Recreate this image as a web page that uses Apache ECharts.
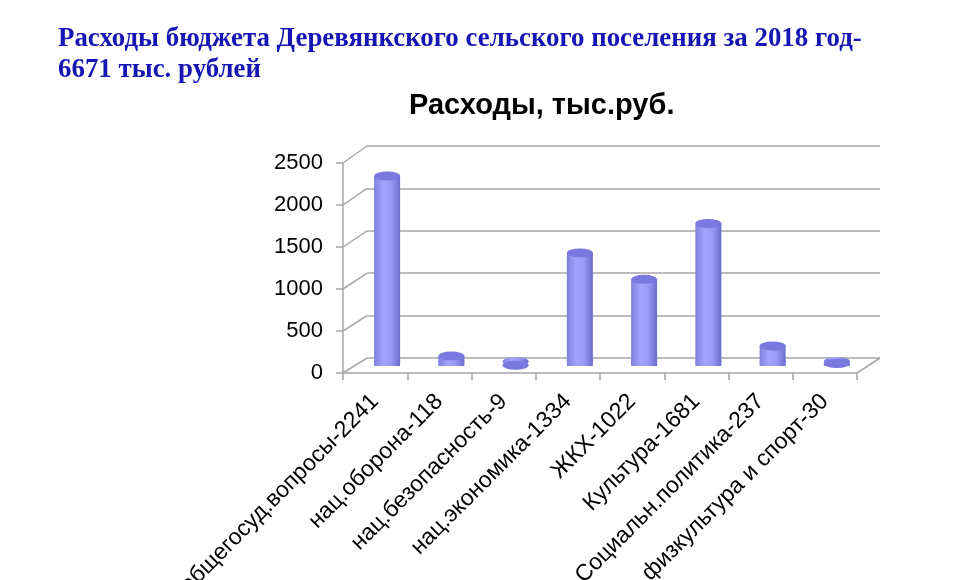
<!DOCTYPE html>
<html>
<head>
<meta charset="utf-8">
<script src="https://cdn.jsdelivr.net/npm/echarts@6/dist/echarts.min.js"></script>
<style>
  html, body { margin: 0; padding: 0; background: #fff; }
  #chart { width: 960px; height: 580px; }
</style>
</head>
<body>
<div id="chart"></div>
<script>
var categories = [
    'общегосуд.вопросы-2241',
    'нац.оборона-118',
    'нац.безопасность-9',
    'нац.экономика-1334',
    'ЖКХ-1022',
    'Культура-1681',
    'Социальн.политика-237',
    'физкультура и спорт-30'
];
var expenses = [2241, 118, 9, 1334, 1022, 1681, 237, 30];
var yTicks = [0, 500, 1000, 1500, 2000, 2500];

var mainTitle = 'Расходы бюджета Деревянкского сельского поселения за 2018 год-\n6671 тыс. рублей';
var chartTitle = 'Расходы, тыс.руб.';

// back wall, bar plane, front axes (fake 3d depth)
var BACK = { left: 367, right: 80, top: 146, bottom: 222 };
var MID = { left: 355, right: 91, top: 154, bottom: 214 };
var FRONT = { left: 343, right: 103, top: 163, bottom: 207 };
var gridColor = '#a6a6a6';

var chart = echarts.init(document.getElementById('chart'));

function valueAxis(idx, extra) {
    return Object.assign({
        type: 'value',
        gridIndex: idx,
        min: 0,
        max: 2500,
        interval: 500,
        axisLabel: { show: false },
        axisTick: { show: false },
        axisLine: { show: false },
        splitLine: { show: false }
    }, extra || {});
}

function catAxis(idx, extra) {
    return Object.assign({
        type: 'category',
        gridIndex: idx,
        data: categories,
        axisLabel: { show: false },
        axisTick: { show: false },
        axisLine: { show: false }
    }, extra || {});
}

function makeGrid(box) {
    return Object.assign({ containLabel: false, outerBoundsMode: 'none' }, box);
}

var barColor = function () {
    return new echarts.graphic.LinearGradient(0, 0, 1, 0, [
        { offset: 0, color: '#7e7edc' },
        { offset: 0.35, color: '#a4a4ff' },
        { offset: 0.65, color: '#9898f6' },
        { offset: 1, color: '#6c6cd0' }
    ]);
};

var option = {
    animation: false,
    backgroundColor: '#ffffff',
    title: {
        text: chartTitle,
        left: 404,
        top: 86,
        textStyle: {
            fontFamily: 'Liberation Sans',
            fontWeight: 'bold',
            fontSize: 29,
            color: '#000'
        }
    },
    grid: [makeGrid(BACK), makeGrid(MID), makeGrid(FRONT)],
    xAxis: [
        catAxis(0),
        catAxis(1),
        catAxis(2, {
            axisLine: { show: true, lineStyle: { color: gridColor, width: 1.5 } },
            axisTick: { show: true, length: 7, lineStyle: { color: gridColor, width: 1.5 } },
            axisLabel: {
                show: true,
                interval: 0,
                rotate: 45,
                margin: 25,
                fontFamily: 'Liberation Sans',
                fontSize: 23,
                color: '#000'
            }
        })
    ],
    yAxis: [
        valueAxis(0, {
            splitLine: { show: true, lineStyle: { color: gridColor, width: 1.5 } }
        }),
        valueAxis(1),
        valueAxis(2, {
            axisLine: { show: true, lineStyle: { color: gridColor, width: 1.5 } },
            axisTick: { show: true, length: 7, lineStyle: { color: gridColor, width: 1.5 } },
            axisLabel: {
                show: true,
                margin: 20,
                fontFamily: 'Liberation Sans',
                fontSize: 22,
                color: '#000',
                formatter: function (v) { return String(v); }
            }
        })
    ],
    series: [
        {
            type: 'bar',
            xAxisIndex: 1,
            yAxisIndex: 1,
            barWidth: 26,
            z: 2,
            itemStyle: { color: barColor() },
            data: expenses
        },
        {
            // rounded bottom of each cylinder
            type: 'pictorialBar',
            xAxisIndex: 1,
            yAxisIndex: 1,
            symbol: 'circle',
            symbolSize: [26, 9],
            symbolPosition: 'start',
            symbolOffset: [0, '0%'],
            z: 1,
            itemStyle: { color: barColor() },
            data: expenses
        },
        {
            // top cap
            type: 'pictorialBar',
            xAxisIndex: 1,
            yAxisIndex: 1,
            symbol: 'circle',
            symbolSize: [26, 9],
            symbolPosition: 'end',
            symbolOffset: [0, '-50%'],
            z: 3,
            itemStyle: { color: '#7878de' },
            data: expenses
        }
    ]
};

chart.setOption(option);

// depth edges joining front axis to back wall, plus the heading
var gfx = [];
var fx = FRONT.left, bx = BACK.left;
yTicks.forEach(function (v) {
    var fy = chart.convertToPixel({ yAxisIndex: 2 }, v);
    var by = chart.convertToPixel({ yAxisIndex: 0 }, v);
    gfx.push({
        type: 'line',
        shape: { x1: fx, y1: fy, x2: bx, y2: by },
        style: { stroke: gridColor, lineWidth: 1.5 },
        silent: true
    });
});
var fy0 = chart.convertToPixel({ yAxisIndex: 2 }, 0);
var by0 = chart.convertToPixel({ yAxisIndex: 0 }, 0);
gfx.push({
    type: 'line',
    shape: { x1: 960 - FRONT.right, y1: fy0, x2: 960 - BACK.right, y2: by0 },
    style: { stroke: gridColor, lineWidth: 1.5 },
    silent: true
});
gfx.push({
    type: 'text',
    x: 58,
    y: 23,
    scaleX: 0.96,
    style: {
        text: mainTitle,
        font: 'bold 28px "Liberation Serif"',
        lineHeight: 31,
        fill: '#1616b4'
    }
});
chart.setOption({ graphic: gfx });
</script>
</body>
</html>
